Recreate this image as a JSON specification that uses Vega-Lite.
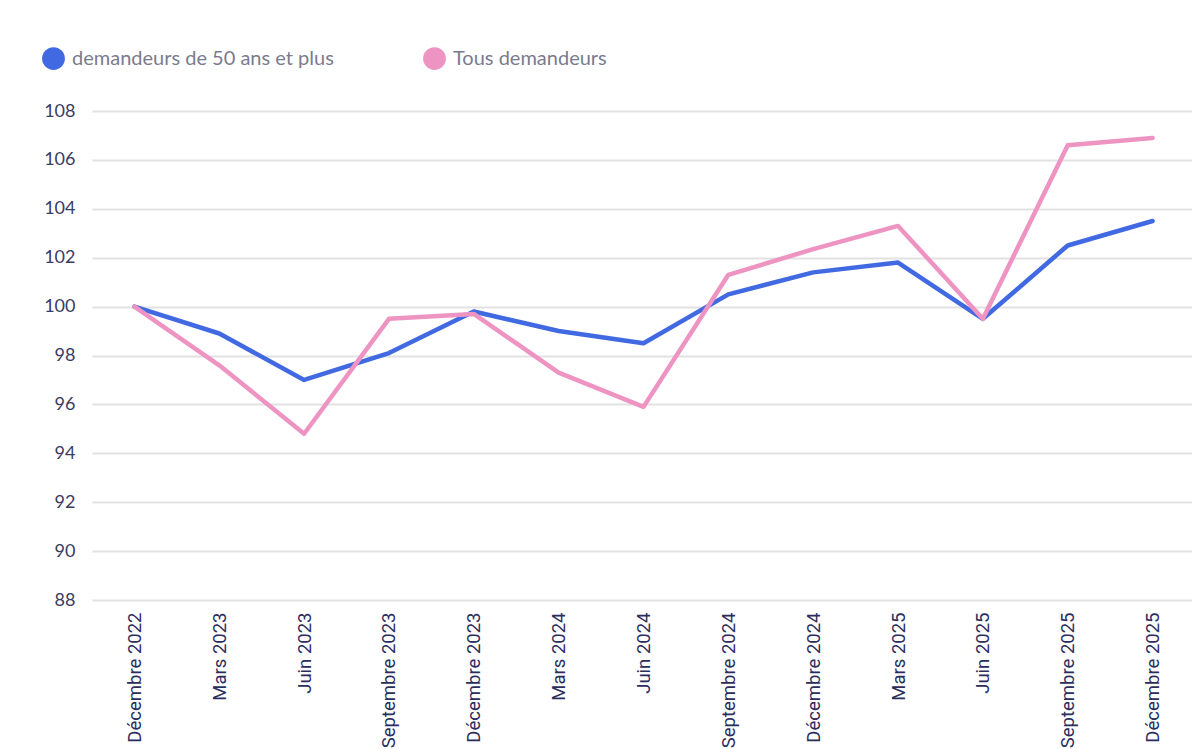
{
  "$schema": "https://vega.github.io/schema/vega-lite/v6.json",
  "width": 1103,
  "height": 489,
  "autosize": {"type": "none"},
  "padding": {"left": 92, "top": 111, "right": 0, "bottom": 149},
  "background": "#ffffff",
  "config": {
    "view": {"stroke": null},
    "font": "Lato"
  },
  "data": {
    "values": [
      {"periode": "Décembre 2022", "serie": "demandeurs de 50 ans et plus", "valeur": 100.0},
      {"periode": "Mars 2023", "serie": "demandeurs de 50 ans et plus", "valeur": 98.9},
      {"periode": "Juin 2023", "serie": "demandeurs de 50 ans et plus", "valeur": 97.0},
      {"periode": "Septembre 2023", "serie": "demandeurs de 50 ans et plus", "valeur": 98.1},
      {"periode": "Décembre 2023", "serie": "demandeurs de 50 ans et plus", "valeur": 99.8},
      {"periode": "Mars 2024", "serie": "demandeurs de 50 ans et plus", "valeur": 99.0},
      {"periode": "Juin 2024", "serie": "demandeurs de 50 ans et plus", "valeur": 98.5},
      {"periode": "Septembre 2024", "serie": "demandeurs de 50 ans et plus", "valeur": 100.5},
      {"periode": "Décembre 2024", "serie": "demandeurs de 50 ans et plus", "valeur": 101.4},
      {"periode": "Mars 2025", "serie": "demandeurs de 50 ans et plus", "valeur": 101.8},
      {"periode": "Juin 2025", "serie": "demandeurs de 50 ans et plus", "valeur": 99.5},
      {"periode": "Septembre 2025", "serie": "demandeurs de 50 ans et plus", "valeur": 102.5},
      {"periode": "Décembre 2025", "serie": "demandeurs de 50 ans et plus", "valeur": 103.5},
      {"periode": "Décembre 2022", "serie": "Tous demandeurs", "valeur": 100.0},
      {"periode": "Mars 2023", "serie": "Tous demandeurs", "valeur": 97.6},
      {"periode": "Juin 2023", "serie": "Tous demandeurs", "valeur": 94.8},
      {"periode": "Septembre 2023", "serie": "Tous demandeurs", "valeur": 99.5},
      {"periode": "Décembre 2023", "serie": "Tous demandeurs", "valeur": 99.7},
      {"periode": "Mars 2024", "serie": "Tous demandeurs", "valeur": 97.3},
      {"periode": "Juin 2024", "serie": "Tous demandeurs", "valeur": 95.9},
      {"periode": "Septembre 2024", "serie": "Tous demandeurs", "valeur": 101.3},
      {"periode": "Décembre 2024", "serie": "Tous demandeurs", "valeur": 102.35},
      {"periode": "Mars 2025", "serie": "Tous demandeurs", "valeur": 103.3},
      {"periode": "Juin 2025", "serie": "Tous demandeurs", "valeur": 99.5},
      {"periode": "Septembre 2025", "serie": "Tous demandeurs", "valeur": 106.6},
      {"periode": "Décembre 2025", "serie": "Tous demandeurs", "valeur": 106.9}
    ]
  },
  "mark": {"type": "line", "strokeWidth": 4.5, "strokeCap": "round", "strokeJoin": "round"},
  "encoding": {
    "x": {
      "field": "periode",
      "type": "ordinal",
      "sort": null,
      "scale": {"type": "point", "padding": 0.5},
      "axis": {
        "title": null,
        "labelAngle": -90,
        "labelFont": "Roboto",
        "labelFontSize": 18.5,
        "labelColor": "#2b2d5c",
        "labelPadding": 12,
        "ticks": false,
        "domain": false,
        "grid": false
      }
    },
    "y": {
      "field": "valeur",
      "type": "quantitative",
      "scale": {"domain": [88, 108], "nice": false, "zero": false},
      "axis": {
        "title": null,
        "values": [88, 90, 92, 94, 96, 98, 100, 102, 104, 106, 108],
        "labelFont": "Lato",
        "labelFontSize": 18,
        "labelColor": "#3a3c62",
        "labelPadding": 17,
        "ticks": false,
        "domain": false,
        "grid": true,
        "gridColor": "#e2e2e2",
        "gridWidth": 2
      }
    },
    "color": {
      "field": "serie",
      "type": "nominal",
      "scale": {
        "domain": ["demandeurs de 50 ans et plus", "Tous demandeurs"],
        "range": ["#4169e1", "#ee94c3"]
      },
      "legend": {
        "title": null,
        "orient": "none",
        "legendX": -50,
        "legendY": -64,
        "direction": "horizontal",
        "symbolType": "circle",
        "symbolSize": 520,
        "symbolStrokeWidth": 0,
        "symbolOpacity": 1,
        "labelFont": "Lato",
        "labelFontSize": 20,
        "labelColor": "#7b7b90",
        "labelOffset": 7,
        "columnPadding": 89,
        "labelLimit": 400,
        "encode": {
          "symbols": {
            "update": {
              "fill": {"scale": "color", "field": "value"},
              "fillOpacity": {"value": 1},
              "strokeWidth": {"value": 0}
            }
          }
        }
      }
    }
  }
}
